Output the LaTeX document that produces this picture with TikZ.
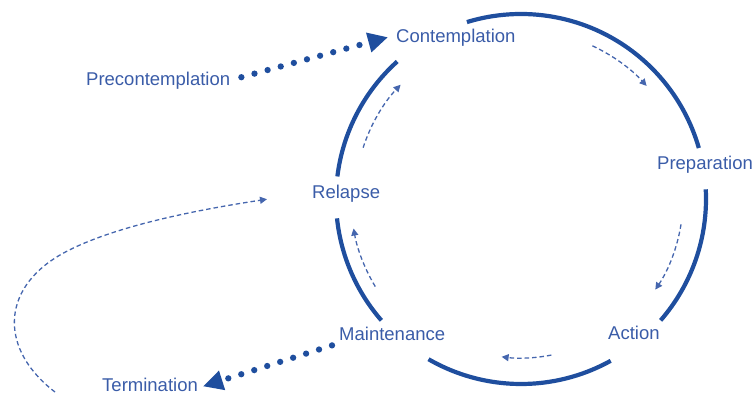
\documentclass[tikz,border=0pt]{standalone}
\usepackage{fontspec}
\setmainfont{Liberation Sans}
\usetikzlibrary{arrows.meta,calc}
\definecolor{cyc}{HTML}{1F4E9E}
\definecolor{lbl}{HTML}{3A5CA8}
\definecolor{lnk}{HTML}{4566AE}
\begin{document}
\begin{tikzpicture}[x=1pt,y=-1pt,
  stage/.style={font=\fontsize{18.5}{22}\selectfont, text=lbl, inner sep=5pt, anchor=base west},
  ring/.style={draw=cyc, line width=4.2pt},
  flow/.style={draw=lnk, line width=1.3pt, dash pattern=on 4.5pt off 3pt, -{Triangle[length=7pt,width=7pt]}},
  jump/.style={draw=cyc, line width=6.3pt, line cap=round, dash pattern=on 0pt off 13.6pt, -{Triangle[length=20pt,width=19pt]}},
]
\useasboundingbox (0,0) rectangle (753,396);

% stage labels
\node[stage] (pre)  at (81,85)  {Precontemplation};
\node[stage] (con)  at (391,43) {Contemplation};
\node[stage] (prep) at (652,169) {Preparation};
\node[stage] (act)  at (603,339) {Action};
\node[stage] (mai)  at (334,340) {Maintenance};
\node[stage] (rel)  at (307,198) {Relapse};
\node[stage, inner ysep=0.5pt] (ter) at (97,391.5) {Termination};

% the cycle, broken where the labels sit
\coordinate (c) at (521,199);
\draw[ring] ($(c)+(107:185pt)$) arc[start angle=107, end angle=16, radius=185pt];
\draw[ring] ($(c)+(3:185pt)$) arc[start angle=3, end angle=-41, radius=185pt];
\draw[ring] ($(c)+(-61:185pt)$) arc[start angle=-61, end angle=-120, radius=185pt];
\draw[ring] ($(c)+(-139:185pt)$) arc[start angle=-139, end angle=-174, radius=185pt];
\draw[ring] ($(c)+(173:185pt)$) arc[start angle=173, end angle=132, radius=185pt];

% direction of travel inside the cycle
\draw[flow] ($(c)+(65:169pt)$) arc[start angle=65, end angle=42, radius=169pt];
\draw[flow] ($(c)+(-9:162pt)$) arc[start angle=-9, end angle=-34, radius=162pt];
\draw[flow] ($(c)+(-79:159pt)$) arc[start angle=-79, end angle=-97, radius=159pt];
\draw[flow] ($(c)+(211:170pt)$) arc[start angle=211, end angle=190, radius=170pt];
\draw[flow] ($(c)+(162:166pt)$) arc[start angle=162, end angle=136.5, radius=166pt];

% entry and exit
\draw[jump] ($(pre.east)+(6,-3)$) -- ($(con.west)+(-3,-1)$);
\draw[jump] ($(mai.south west)+(-2,0)$) -- ($(ter.east)+(0,1.5)$);

% return path from termination back to relapse
\coordinate (back) at (55,392);
\coordinate (bend) at (60,255);
\coordinate (into) at ($(rel.west)+(-40,6)$);
\draw[flow] (back) .. controls (0,350) and (0,290) .. (bend)
  .. controls (100,232) and (170,214) .. (into);
\end{tikzpicture}
\end{document}
